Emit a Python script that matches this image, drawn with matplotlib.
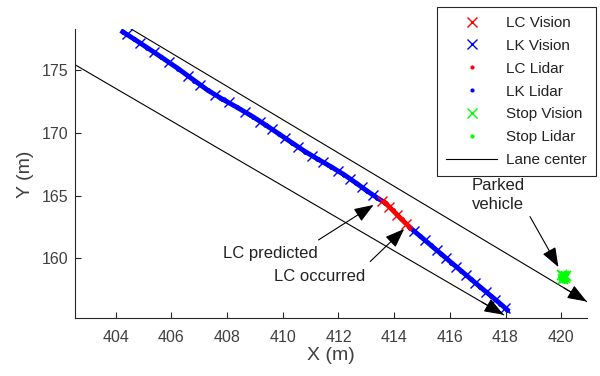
import matplotlib
matplotlib.use("Agg")
import matplotlib.pyplot as plt
from matplotlib.lines import Line2D

plt.rcParams['font.family'] = ['Liberation Sans', 'DejaVu Sans']

# vision detections (x markers)
lk_vis_x = [404.40, 404.88, 405.36, 405.90, 406.61, 407.03, 407.57, 408.05, 408.65,
            409.19, 409.61, 410.09, 410.56, 411.04, 411.46, 412.00, 412.42, 412.84,
            413.23, 414.72, 415.11, 415.53, 415.87, 416.23, 416.59, 416.91, 417.30,
            417.63, 417.99]
lk_vis_y = [177.86, 177.15, 176.44, 175.65, 174.51, 173.83, 173.02, 172.42, 171.67,
            170.90, 170.29, 169.57, 168.87, 168.18, 167.64, 166.95, 166.32, 165.67,
            165.08, 162.16, 161.43, 160.64, 160.00, 159.33, 158.65, 158.05, 157.32,
            156.70, 156.02]
lc_vis_x = [413.57, 413.82, 414.11, 414.43]
lc_vis_y = [164.57, 164.10, 163.46, 162.75]

# lidar track
lk_lid_x1 = [404.25, 404.64, 405.12, 405.63, 406.25, 406.82, 407.30, 407.81, 408.35,
             408.92, 409.40, 409.85, 410.32, 410.80, 411.25, 411.73, 412.21, 412.63,
             413.03, 413.40, 413.68]
lk_lid_y1 = [178.05, 177.50, 176.80, 176.04, 175.10, 174.17, 173.40, 172.71, 172.04,
             171.29, 170.60, 169.93, 169.22, 168.51, 167.91, 167.30, 166.65, 166.00,
             165.36, 164.80, 164.41]
lc_lid_x = [413.68, 413.95, 414.27, 414.58]
lc_lid_y = [164.41, 163.82, 163.10, 162.42]
lk_lid_x2 = [414.58, 414.92, 415.32, 415.70, 416.05, 416.41, 416.75, 417.10, 417.47,
             417.81, 418.06]
lk_lid_y2 = [162.42, 161.79, 161.03, 160.32, 159.66, 158.99, 158.35, 157.69, 157.01,
             156.38, 155.89]

# parked vehicle
stop_vis_x = [420.02, 420.12, 420.18, 420.05, 420.10]
stop_vis_y = [158.70, 158.45, 158.62, 158.38, 158.55]
stop_lid_x = [420.08, 420.15, 420.00, 420.10]
stop_lid_y = [158.55, 158.72, 158.50, 158.30]

# lane centers
lane1_x = [404.55, 420.92]
lane1_y = [178.28, 156.55]
lane2_x = [402.55, 417.93]
lane2_y = [175.41, 155.50]

fig = plt.figure(figsize=(6.0, 3.76), dpi=100)
ax = fig.add_axes([0.1257, 0.153, 0.8523, 0.769])

arrow_kw = dict(arrowstyle='-|>,head_length=0.8,head_width=0.3', color='k',
                lw=0.8, mutation_scale=15, shrinkA=0, shrinkB=0)

for lx, ly in [(lane1_x, lane1_y), (lane2_x, lane2_y)]:
    ax.plot(lx, ly, color='k', lw=0.8)
    ax.annotate('', xy=(lx[1], ly[1]),
                xytext=(lx[1] - 0.05 * (lx[1] - lx[0]), ly[1] - 0.05 * (ly[1] - ly[0])),
                arrowprops=arrow_kw)

ax.plot(lk_lid_x1, lk_lid_y1, color='b', lw=3.5, marker='.', ms=5)
ax.plot(lk_lid_x2, lk_lid_y2, color='b', lw=3.5, marker='.', ms=5)
ax.plot(lc_lid_x, lc_lid_y, color='r', lw=3.5, marker='.', ms=5)
ax.plot(lk_vis_x, lk_vis_y, ls='none', marker='x', color='b', ms=7, mew=1)
ax.plot(lc_vis_x, lc_vis_y, ls='none', marker='x', color='r', ms=7, mew=1)
ax.plot(stop_vis_x, stop_vis_y, ls='none', marker='x', color=(0, 1, 0), ms=7, mew=1.2)
ax.plot(stop_lid_x, stop_lid_y, ls='none', marker='.', color=(0, 1, 0), ms=8)

ann_kw = dict(fontsize=12, ha='center', va='center', color='#222222')
ax.annotate('', xy=(413.26, 164.25), xytext=(411.28, 161.46), arrowprops=arrow_kw)
ax.text(409.55, 160.35, 'LC predicted', **ann_kw)
ax.annotate('', xy=(414.36, 162.34), xytext=(413.14, 159.74), arrowprops=arrow_kw)
ax.text(411.34, 158.52, 'LC occurred', **ann_kw)
ax.annotate('', xy=(419.9, 159.3), xytext=(418.88, 163.32), arrowprops=arrow_kw)
ax.text(417.73, 165.05, 'Parked\nvehicle', linespacing=1.35,
        multialignment='center', **ann_kw)

ax.set_xlim(402.55, 420.92)
ax.set_ylim(155.2, 178.25)
ax.set_xticks([404, 406, 408, 410, 412, 414, 416, 418, 420])
ax.set_yticks([160, 165, 170, 175])
for s in ['top', 'right']:
    ax.spines[s].set_visible(False)
for s in ['left', 'bottom']:
    ax.spines[s].set_color('#262626')
    ax.spines[s].set_linewidth(0.8)
ax.tick_params(direction='in', length=4, width=0.8, color='#262626',
               labelsize=11.5, labelcolor='#404040')
ax.tick_params(axis='x', pad=8)
ax.tick_params(axis='y', pad=5)
ax.set_xlabel('X (m)', fontsize=14, color='#404040', labelpad=2)
ax.set_ylabel('Y (m)', fontsize=14, color='#404040', labelpad=6)

handles = [
    Line2D([], [], ls='none', marker='x', color='r', ms=7, mew=1),
    Line2D([], [], ls='none', marker='x', color='b', ms=7, mew=1),
    Line2D([], [], ls='none', marker='.', color='r', ms=4),
    Line2D([], [], ls='none', marker='.', color='b', ms=4),
    Line2D([], [], ls='none', marker='x', color=(0, 1, 0), ms=7, mew=1),
    Line2D([], [], ls='none', marker='.', color=(0, 1, 0), ms=4),
    Line2D([], [], color='k', lw=0.8),
]
labels = ['LC Vision', 'LK Vision', 'LC Lidar', 'LK Lidar', 'Stop Vision',
          'Stop Lidar', 'Lane center']
leg = fig.legend(handles, labels, loc='upper right', bbox_to_anchor=(0.993, 0.982),
                 borderaxespad=0, fontsize=11, frameon=True, fancybox=False,
                 edgecolor='#262626', framealpha=1, handlelength=3.3,
                 handletextpad=0.6, labelspacing=0.58, borderpad=0.6)
leg.get_frame().set_linewidth(0.8)
for t in leg.get_texts():
    t.set_color('#222222')

fig.savefig('out.png', dpi=100)
